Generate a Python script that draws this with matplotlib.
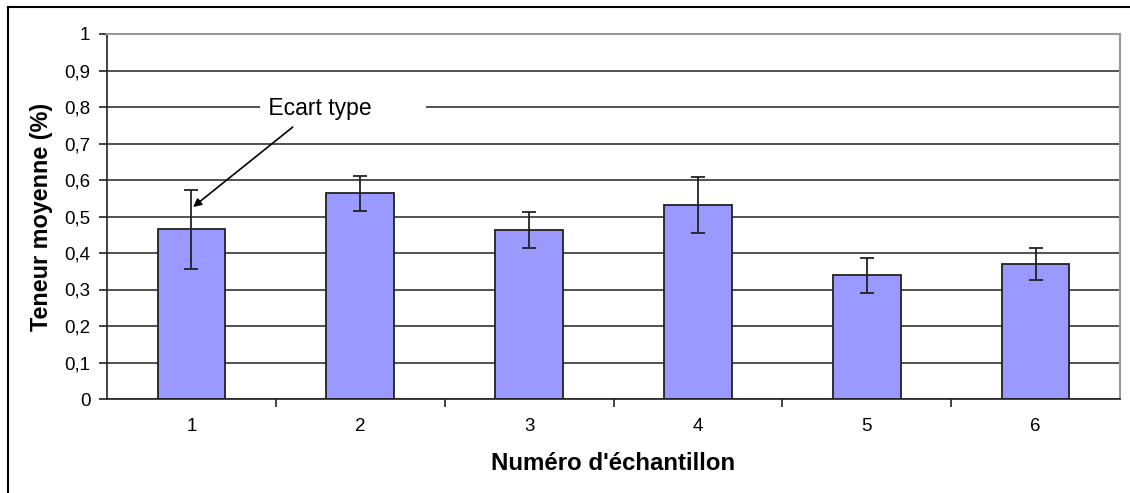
import numpy as np
import matplotlib
matplotlib.use("Agg")
import matplotlib.pyplot as plt
from matplotlib.lines import Line2D

plt.rcParams['font.family'] = ['Liberation Sans', 'DejaVu Sans']

# data
samples = ['1', '2', '3', '4', '5', '6']
teneur = [0.465, 0.564, 0.463, 0.532, 0.339, 0.370]
ecart = [0.108, 0.048, 0.049, 0.077, 0.048, 0.044]
yticks = [0, 0.1, 0.2, 0.3, 0.4, 0.5, 0.6, 0.7, 0.8, 0.9, 1]

fig = plt.figure(figsize=(11.3, 4.93), dpi=100)
ax = fig.add_axes([107 / 1130, 1 - 399 / 493, 1013 / 1130, 365 / 493])

x = np.arange(1, len(samples) + 1)
ax.bar(x, teneur, width=0.4, color='#9999ff', edgecolor='#222222',
       linewidth=1.3, zorder=2)
ax.errorbar(x, teneur, yerr=ecart, fmt='none', ecolor='#222222',
            elinewidth=1.3, capsize=5, capthick=1.3, zorder=3)

ax.set_xlim(0.5, 6.5)
ax.set_ylim(0, 1)
ax.set_yticks(yticks)
ax.set_yticklabels([('%g' % v).replace('.', ',') for v in yticks])
ax.set_xticks(x)
ax.set_xticklabels(samples)
ax.set_xticks(np.arange(1.5, 6.5, 1), minor=True)
ax.tick_params(axis='x', which='major', length=0, pad=14, labelsize=13.5)
ax.tick_params(axis='x', which='minor', length=6, width=1.2, color='#222222')
ax.tick_params(axis='y', length=6, width=1.2, color='#222222', labelsize=13.5,
               pad=6)

ax.yaxis.grid(True, color='#333333', linewidth=1.2)
ax.set_axisbelow(True)
for side in ['top', 'right']:
    ax.spines[side].set_color('#999999')
    ax.spines[side].set_linewidth(1.5)
for side in ['left', 'bottom']:
    ax.spines[side].set_color('#222222')
    ax.spines[side].set_linewidth(1.2)

ax.set_ylabel('Teneur moyenne (%)', fontsize=16.8, fontweight='bold',
              labelpad=8)
ax.set_xlabel("Numéro d'échantillon", fontsize=17.3, fontweight='bold',
              labelpad=12)

# annotation
ax.text(1.42, 0.797, ' Ecart type        ', fontsize=16.5, ha='left',
        va='center', zorder=4,
        bbox=dict(facecolor='white', edgecolor='none', pad=2))
ax.annotate('', xy=(1.01, 0.526), xytext=(1.60, 0.745),
            arrowprops=dict(arrowstyle='-|>', color='black', lw=1.2,
                            mutation_scale=12, shrinkA=0, shrinkB=0),
            zorder=5)

# outer chart frame (top and left edges visible)
fig.add_artist(Line2D([8 / 1130, 8 / 1130], [0, 1 - 7 / 493],
                      transform=fig.transFigure, color='black', lw=1.5))
fig.add_artist(Line2D([8 / 1130, 1], [1 - 7 / 493, 1 - 7 / 493],
                      transform=fig.transFigure, color='black', lw=1.5))

fig.savefig('out.png', dpi=100)
